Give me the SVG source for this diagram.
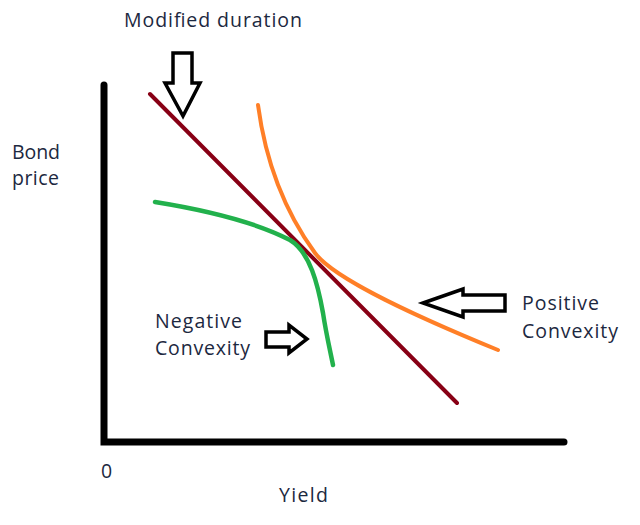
<svg xmlns="http://www.w3.org/2000/svg" width="640" height="525" viewBox="0 0 640 525">
<style>
text{font-family:"Open Sans","Liberation Sans",sans-serif;font-size:19.5px;fill:#1c2840}
.arrow{fill:#fff;stroke:#000;stroke-width:3.5;stroke-linejoin:miter}
.curve{fill:none;stroke-linecap:round;stroke-linejoin:round}
</style>
<rect width="640" height="525" fill="#fff"/>
<g id="axes">
<path d="M104,85 L104,442 L564,442" fill="none" stroke="#000" stroke-width="7" stroke-linecap="round" stroke-linejoin="miter"/>
<text x="101" y="478" textLength="10">0</text>
<text x="279" y="502" textLength="49">Yield</text>
<text x="12" y="159" textLength="48">Bond</text>
<text x="12" y="185" textLength="47">price</text>
</g>
<g id="curves">
<path id="duration-line" class="curve" d="M150,94 L457,403" stroke="#880015" stroke-width="4"/>
<path id="positive-convexity" class="curve" d="M258,105 C264,150 280,205 315,253 C335,280 420,318 498,350" stroke="#ff7f27" stroke-width="4"/>
<path id="negative-convexity" class="curve" d="M155,202 C205,210 255,222 290,240 C310,252 318,285 323,313 C326,333 330,350 333,365" stroke="#22b14c" stroke-width="4.5"/>
</g>
<g id="modified-duration">
<text x="124" y="27" textLength="178">Modified duration</text>
<polygon class="arrow" points="173,53 192,53 192,83 200,83 183,116 165,83 173,83"/>
</g>
<g id="positive-label">
<text x="522" y="310" textLength="77">Positive</text>
<text x="522" y="338" textLength="96">Convexity</text>
<polygon class="arrow" points="423,303 463,289 463,295 505,295 505,311 463,311 463,317"/>
</g>
<g id="negative-label">
<text x="155" y="328" textLength="87">Negative</text>
<text x="155" y="355" textLength="95">Convexity</text>
<polygon class="arrow" points="266,332 289,332 289,325 307,339 289,353 289,347 266,347" stroke-width="4"/>
</g>
</svg>
